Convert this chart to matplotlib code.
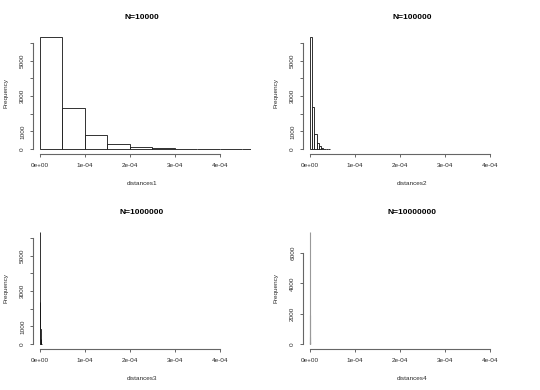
import matplotlib.pyplot as plt
import numpy as np

plt.rcParams['font.family'] = ['Liberation Sans', 'DejaVu Sans']

# histogram data (counts per bin, bins start at 0)
titles = ['N=10000', 'N=100000', 'N=1000000', 'N=10000000']
xlabels = ['distances1', 'distances2', 'distances3', 'distances4']
bin_widths = [5e-5, 5e-6, 5e-7, 5e-8]
counts1 = [6340, 2320, 811, 302, 132, 57, 20, 9, 5, 4]
counts2 = [6350, 2380, 850, 330, 150, 70, 30, 15, 8]
counts3 = [6350, 2350, 830, 310, 140, 60, 25, 10, 5]
counts4 = [7390, 1900, 480, 150, 50, 20]
all_counts = [counts1, counts2, counts3, counts4]

xticks = [0, 1e-4, 2e-4, 3e-4, 4e-4]
xtick_labels = ['0e+00', '1e-04', '2e-04', '3e-04', '4e-04']
yticks_a = [0, 1000, 2000, 3000, 4000, 5000, 6000]
ytick_labels_a = ['0', '1000', '', '3000', '', '5000', '']
yticks_b = [0, 2000, 4000, 6000]
ytick_labels_b = ['0', '2000', '4000', '6000']

W, H = 540, 390
fig = plt.figure(figsize=(W / 100, H / 100), dpi=100)

# plot regions in pixels (left, top) of each panel
lefts = [32.7, 302.7, 32.7, 302.7]
tops = [32.3, 32.3, 227.3, 227.3]
pw, ph = 218.3, 121.7

axis_col = '#666666'
text_col = '#2a2a2a'

for i in range(4):
    ax = fig.add_axes([lefts[i] / W, (H - tops[i] - ph) / H, pw / W, ph / H])
    counts = all_counts[i]
    edges = np.arange(len(counts)) * bin_widths[i]
    if i < 3:
        ax.bar(edges, counts, width=bin_widths[i], align='edge', color='white',
               edgecolor='#111111', linewidth=0.6)
    else:
        # bars this narrow show up as one faint grey line
        ax.bar(edges, counts, width=bin_widths[i], align='edge', color='white',
               edgecolor='#999999', linewidth=0.8)

    ax.set_xlim(-1.622e-5, 4.689e-4)
    if i < 3:
        ax.set_ylim(-280, 6600)
        ax.set_yticks(yticks_a)
        ax.set_yticklabels(ytick_labels_a)
    else:
        ax.set_ylim(-320, 7700)
        ax.set_yticks(yticks_b)
        ax.set_yticklabels(ytick_labels_b)
    ax.spines['left'].set_bounds(0, 6000)
    ax.set_xticks(xticks)
    ax.set_xticklabels(xtick_labels)
    ax.spines['bottom'].set_bounds(0, 4e-4)
    ax.spines['top'].set_visible(False)
    ax.spines['right'].set_visible(False)
    for s in ['left', 'bottom']:
        ax.spines[s].set_linewidth(0.8)
        ax.spines[s].set_color(axis_col)

    ax.tick_params(axis='both', length=2.2, width=0.7, color=axis_col,
                   labelsize=4.6, labelcolor=text_col)
    ax.tick_params(axis='x', pad=4.5)
    ax.tick_params(axis='y', pad=3.2)
    for lab in ax.get_yticklabels():
        lab.set_rotation(90)
        lab.set_va('center')

    ax.text(0.5, 1 + 15 / ph, titles[i], transform=ax.transAxes,
            ha='center', va='center', fontsize=6, fontweight='bold')
    ax.text(0.5, -29 / ph, xlabels[i], transform=ax.transAxes,
            ha='center', va='center', fontsize=4.6, color=text_col)
    ax.text(-26.7 / pw, 0.5, 'Frequency', transform=ax.transAxes, rotation=90,
            ha='center', va='center', fontsize=4.6, color=text_col)

plt.savefig('out.png', dpi=100)
